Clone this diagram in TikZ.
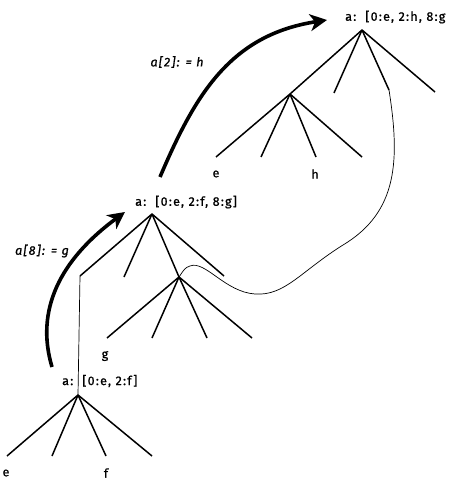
\documentclass[tikz,border=0pt]{standalone}
\usepackage{fontspec}
\setmainfont[LetterSpace=10,FakeBold=1]{Fira Sans}
\usetikzlibrary{arrows.meta}

\begin{document}
\begin{tikzpicture}[x=1pt,y=-1pt,
  branch/.style={line width=1.5pt},
  thread/.style={line width=0.7pt},
  move/.style={line width=3.6pt,-{Stealth[length=17pt,width=17pt,inset=5pt]}},
  key/.style={font=\fontsize{12.5}{14}\selectfont,inner sep=0pt},
  op/.style={font=\fontsize{12.5}{14}\selectfont\itshape,inner sep=0pt}]
\useasboundingbox (0,0) rectangle (460,486);
\coordinate (tR) at (362,30);
\coordinate (tS) at (290,94);
\coordinate (tB) at (334,93);
\coordinate (tC) at (389,90);
\coordinate (tD) at (435,92);
\coordinate (tS1) at (216,157);
\coordinate (tS2) at (261,157);
\coordinate (tS3) at (316,157);
\coordinate (tS4) at (362,157);
\coordinate (mR) at (152,214);
\coordinate (mL) at (80,276);
\coordinate (mB) at (124,277);
\coordinate (mS) at (179,277);
\coordinate (mD) at (224,276);
\coordinate (mS1) at (107,338);
\coordinate (mS2) at (152,338);
\coordinate (mS3) at (207,338);
\coordinate (mS4) at (252,338);
\coordinate (bR) at (78,395);
\coordinate (b1) at (7,456);
\coordinate (b2) at (52,456);
\coordinate (b3) at (106,456);
\coordinate (b4) at (152,456);
\coordinate (up2s) at (160,177);
\coordinate (up2e) at (327,20);
\coordinate (up8s) at (52,367);
\coordinate (up8e) at (125,212);
\node[key,anchor=west] (topkey) at (345,17) {a:\ \ [0:e, 2:h, 8:g};
\node[key,anchor=west] (midkey) at (135,202) {a:\ \ [0:e, 2:f, 8:g]};
\node[key,anchor=west] (botkey) at (62,381) {a:\ \ [0:e, 2:f]};
\node[key] (te) at (216,174) {e};
\node[key] (th) at (315,174) {h};
\node[key] (mg) at (105,356) {g};
\node[key] (be) at (6,473) {e};
\node[key] (bf) at (106,473) {f};
\node[op] (op2) at (177,62) {a[2]: = h};
\node[op] (op8) at (42,251) {a[8]: = g};
\draw[branch] (tR) -- (tS);
\draw[branch] (tR) -- (tB);
\draw[branch] (tR) -- (tC);
\draw[branch] (tR) -- (tD);
\draw[branch] (tS) -- (tS1);
\draw[branch] (tS) -- (tS2);
\draw[branch] (tS) -- (tS3);
\draw[branch] (tS) -- (tS4);
\draw[branch] (mR) -- (mL);
\draw[branch] (mR) -- (mB);
\draw[branch] (mR) -- (mS);
\draw[branch] (mR) -- (mD);
\draw[branch] (mS) -- (mS1);
\draw[branch] (mS) -- (mS2);
\draw[branch] (mS) -- (mS3);
\draw[branch] (mS) -- (mS4);
\draw[branch] (bR) -- (b1);
\draw[branch] (bR) -- (b2);
\draw[branch] (bR) -- (b3);
\draw[branch] (bR) -- (b4);
\draw[thread] (mL) -- (bR);
\draw[thread] (tC) .. controls (400,160) and (398,212) .. (343,245)
  .. controls (300,272) and (285,296) .. (255,294)
  .. controls (225,292) and (205,260) .. (190,266)
  .. controls (185,268) .. (mS);
\draw[move] (up2s) .. controls (195,95) and (230,35) .. (up2e);
\draw[move] (up8s) .. controls (35,310) and (60,260) .. (up8e);
\end{tikzpicture}
\end{document}
